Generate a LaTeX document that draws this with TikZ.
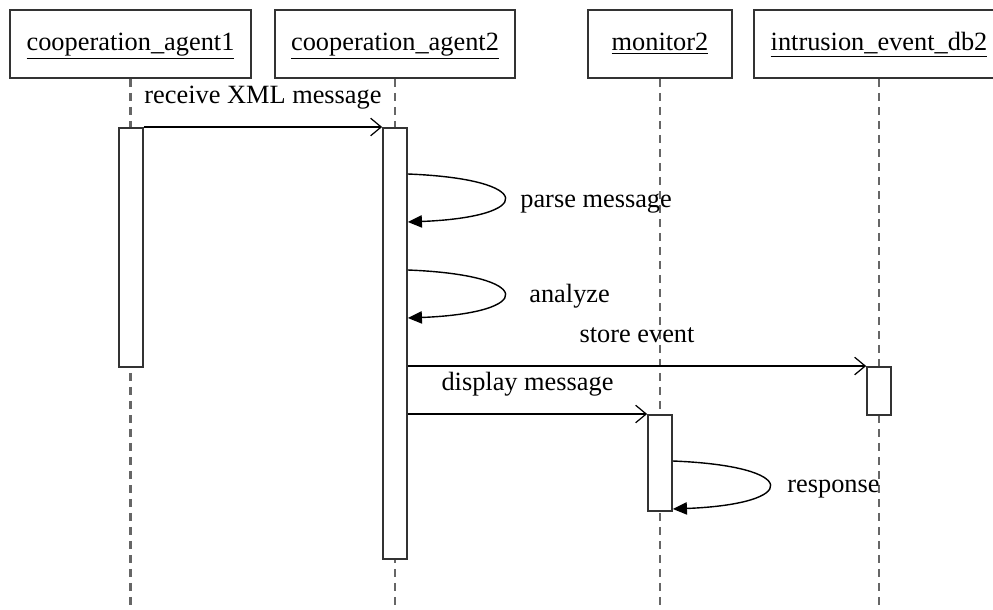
\documentclass[tikz,border=0pt]{standalone}
\usepackage{fontspec}
\setmainfont{Liberation Serif}
\usetikzlibrary{calc, arrows.meta}
\tikzset{
  head/.style={draw=black!80, line width=1pt, fill=white, minimum height=1.36cm, text height=11pt, text depth=4pt, font=\fontsize{15}{18}\selectfont},
  act/.style={draw=black!80, line width=1pt, fill=white, minimum width=0.48cm, anchor=north},
  lifeline/.style={black!60, line width=1.2pt, dash pattern=on 0.17cm off 0.11cm},
  msg/.style={line width=0.7pt, -{Straight Barb[length=6pt, width=10pt]}},
  selfmsg/.style={line width=0.8pt, -{Triangle[length=8pt, width=7pt]}},
  msglabel/.style={midway, anchor=base, inner sep=0pt, yshift=0.48cm, font=\fontsize{15}{18}\selectfont},
  selflabel/.style={anchor=base west, inner sep=0pt, font=\fontsize{15}{18}\selectfont}
}
\newcommand{\objHead}[4]{
  \node[head, minimum width=#4] (#1) at (#2,44) {\underline{#3}};
  \draw[lifeline] (#1.south) -- (#1.south |- 0,609);
}
\newcommand{\selfCall}[3]{
  \coordinate (#1-s) at ($(#2.north east)+(0,#3)$);
  \coordinate (#1-e) at ($(#2.north east)+(0,#3+48)$);
  \draw[selfmsg] (#1-s) .. controls +(128,5) and +(128,-5) .. (#1-e);
}

\begin{document}
\begin{tikzpicture}[x=0.02cm, y=-0.02cm]
  \useasboundingbox (0,0) rectangle (993,609);
  \objHead{agent1}{130.5}{cooperation\_agent1}{4.82cm}
  \objHead{agent2}{395}{cooperation\_agent2}{4.8cm}
  \objHead{monitor}{660}{monitor2}{2.88cm}
  \objHead{eventdb}{879}{intrusion\_event\_db2}{5cm}

  \node[act, minimum height=4.78cm] (act1) at (131,127) {};
  \node[act, minimum height=8.62cm] (act2) at (395,127) {};
  \node[act, minimum height=1.92cm] (act3) at (660,414) {};
  \node[act, minimum height=0.96cm] (act4) at (879,366) {};

  \draw[msg] (act1.north east) -- (act2.north west) node[msglabel] (lrecv) {receive XML message};
  \selfCall{parse}{act2}{47}
  \node[selflabel] (lparse) at (520,207) {parse message};
  \selfCall{analyze}{act2}{143}
  \node[selflabel] (lanalyze) at (529,302) {analyze};
  \draw[msg] (act2.east |- act4.north) -- (act4.north west) node[msglabel] (lstore) {store event};
  \draw[msg] (act2.east |- act3.north) -- (act3.north west) node[msglabel] (ldisplay) {display message};
  \selfCall{resp}{act3}{47}
  \node[selflabel] (lresp) at (787,492) {response};
\end{tikzpicture}
\end{document}
